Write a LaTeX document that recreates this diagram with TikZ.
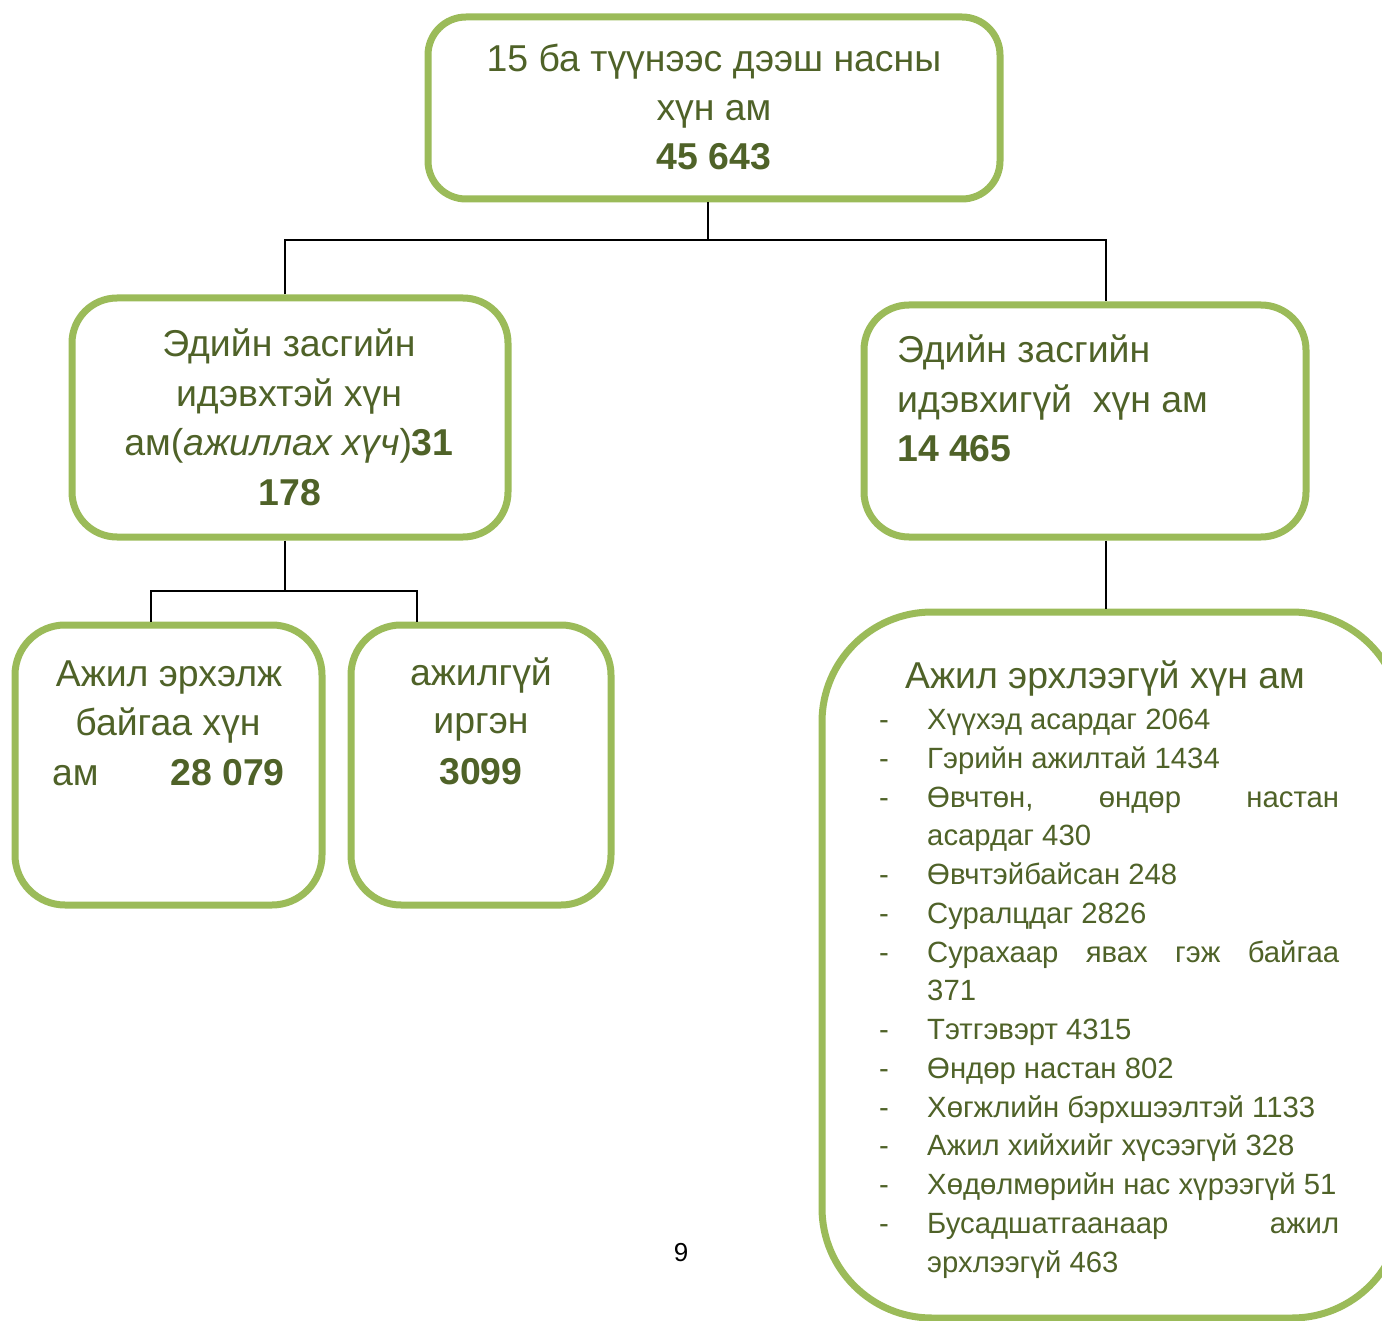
\documentclass[tikz,border=0pt]{standalone}
\usepackage{fontspec}
\setmainfont{Liberation Sans}
\definecolor{boxgreen}{HTML}{9BBB59}
\definecolor{txtgreen}{HTML}{4F6228}
\tikzset{
  gbox/.style={draw=boxgreen, line width=7pt, fill=white, inner sep=0pt, rectangle},
  conn/.style={draw=black, line width=1.8pt},
  txt/.style={inner sep=0pt, text=txtgreen, font=\fontsize{37.4}{44}\selectfont},
  ltxt/.style={inner sep=0pt, text=txtgreen, font=\fontsize{29.3}{35}\selectfont},
  dsh/.style={inner sep=0pt, text=txtgreen, font=\fontsize{29.3}{35}\selectfont, anchor=base},
}
\begin{document}
\begin{tikzpicture}[x=1pt,y=-1pt]
\useasboundingbox (0,0) rectangle (1382,1321);
% boxes
\node[gbox, rounded corners=38pt, minimum width=572pt, minimum height=182pt] (top) at (714,108) {};
\node[gbox, rounded corners=45pt, minimum width=436pt, minimum height=239pt] (lbox) at (290,417.5) {};
\node[gbox, rounded corners=45pt, minimum width=442pt, minimum height=232pt] (rbox) at (1085,421) {};
\node[gbox, rounded corners=50pt, minimum width=307pt, minimum height=280pt] (b1) at (168.5,765) {};
\node[gbox, rounded corners=50pt, minimum width=260pt, minimum height=280pt] (b2) at (481,765) {};
\begin{scope}
\clip (0,0) rectangle (1382,1321);
\node[gbox, rounded corners=110pt, minimum width=580pt, minimum height=706pt] (big) at (1112,965) {};
\end{scope}
% connectors
\coordinate (j1) at (708,240);
\coordinate (jl) at (285,240);
\coordinate (jr) at (1106,240);
\draw[conn] (j1 |- top.south) -- (j1);
\draw[conn] (jl |- lbox.north) -- (jl) -- (jr) -- (jr |- rbox.north);
\coordinate (j2) at (285,591);
\coordinate (j2l) at (151,591);
\coordinate (j2r) at (417,591);
\draw[conn] (j2 |- lbox.south) -- (j2);
\draw[conn] (j2l |- b1.north) -- (j2l) -- (j2r) -- (j2r |- b2.north);
\coordinate (j3) at (1106,591);
\draw[conn] (j3 |- rbox.south) -- (j3 |- big.north);
% top text
\node[txt, anchor=base] (t1) at (714,72) {15 ба түүнээс дээш насны};
\node[txt, anchor=base] (t2) at (714,121) {хүн ам};
\node[txt, anchor=base] (t3) at (714,170) {\textbf{45 643}};
% left box text
\node[txt, anchor=base] (l1) at (289,357) {Эдийн засгийн};
\node[txt, anchor=base] (l2) at (289,407) {идэвхтэй хүн};
\node[txt, anchor=base] (l3) at (289,456) {ам(\textit{ажиллах хүч})\textbf{31}};
\node[txt, anchor=base] (l4) at (290,505) {\textbf{178}};
% right box text
\node[txt, anchor=base west] (r1) at (897,363) {Эдийн засгийн};
\node[txt, anchor=base west] (r2) at (897,413) {идэвхигүй\ \ хүн ам};
\node[txt, anchor=base west] (r3) at (897,462) {\textbf{14 465}};
% bottom left boxes
\node[txt, anchor=base] (a1) at (169,686) {Ажил эрхэлж};
\node[txt, anchor=base] (a2) at (168,735) {байгаа хүн};
\node[txt, anchor=base west] (a3) at (52,785) {ам};
\node[txt, anchor=base east] (a4) at (285,785) {\textbf{28 079}};
\node[txt, anchor=base] (c1) at (481,685) {ажилгүй};
\node[txt, anchor=base] (c2) at (481,733) {иргэн};
\node[txt, anchor=base] (c3) at (481,784) {\textbf{3099}};
% big box
\node[txt, anchor=base west] (h) at (905,688) {Ажил эрхлээгүй хүн ам};
\foreach \y/\n in {729/d1,768/d2,807/d3,884/d4,923/d5,962/d6,1039/d7,1078/d8,1117/d9,1155/d10,1194/d11,1233/d12}
  \node[dsh] (\n) at (884,\y) {-};
\node[ltxt, anchor=base west] (i1) at (927,729) {Хүүхэд асардаг 2064};
\node[ltxt, anchor=base west] (i2) at (927,768) {Гэрийн ажилтай 1434};
\node[ltxt, anchor=base west] (i3) at (927,807) {\hbox to 412pt{Өвчтөн,\hfill өндөр\hfill настан}};
\node[ltxt, anchor=base west] (i3b) at (927,845) {асардаг 430};
\node[ltxt, anchor=base west] (i4) at (927,884) {Өвчтэйбайсан 248};
\node[ltxt, anchor=base west] (i5) at (927,923) {Суралцдаг 2826};
\node[ltxt, anchor=base west] (i6) at (927,962) {\hbox to 412pt{Сурахаар\hfill явах\hfill гэж\hfill байгаа}};
\node[ltxt, anchor=base west] (i6b) at (927,1000) {371};
\node[ltxt, anchor=base west] (i7) at (927,1039) {Тэтгэвэрт 4315};
\node[ltxt, anchor=base west] (i8) at (927,1078) {Өндөр настан 802};
\node[ltxt, anchor=base west] (i9) at (927,1117) {Хөгжлийн бэрхшээлтэй 1133};
\node[ltxt, anchor=base west] (i10) at (927,1155) {Ажил хийхийг хүсээгүй 328};
\node[ltxt, anchor=base west] (i11) at (927,1194) {Хөдөлмөрийн нас хүрээгүй 51};
\node[ltxt, anchor=base west] (i12) at (927,1233) {\hbox to 412pt{Бусадшатгаанаар\hfill ажил}};
\node[ltxt, anchor=base west] (i12b) at (927,1272) {эрхлээгүй 463};
% page number
\node[inner sep=0pt, anchor=base, font=\fontsize{26}{30}\selectfont] (pg) at (681,1261) {9};
\end{tikzpicture}
\end{document}
